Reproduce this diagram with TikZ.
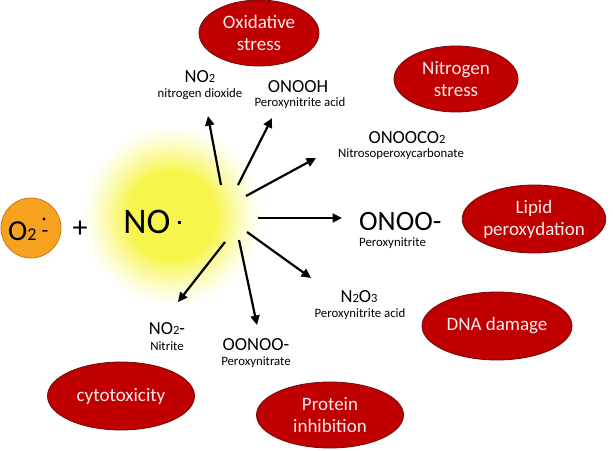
\documentclass[tikz,border=0pt]{standalone}
\usepackage{fontspec}
\setmainfont{Carlito}
\usetikzlibrary{arrows.meta,shapes.geometric}
\definecolor{effred}{RGB}{192,0,0}
\definecolor{effredline}{RGB}{110,10,10}
\definecolor{effText}{RGB}{255,235,235}
\definecolor{orangeO}{RGB}{246,162,30}
\definecolor{orangeLine}{RGB}{200,120,20}
\definecolor{glowY}{RGB}{247,245,75}
\newcommand\fsz[2]{\fontsize{#1}{#2}\selectfont}
\tikzset{
  effect/.style={ellipse, fill=effred, draw=effredline, line width=0.8pt, text=effText,
    align=center, inner sep=0pt, font=\fsz{19}{22}},
  formula/.style={anchor=base, inner sep=0pt, font=\fsz{18.5}{20}},
  cname/.style={anchor=base, inner sep=0pt, font=\fsz{12.8}{14}},
  rarrow/.style={line width=2.2pt, -{Triangle[length=9.5pt,width=9pt]}},
}
\newcommand\sub[1]{{\fsz{12.5}{12}#1}}
\begin{document}
\begin{tikzpicture}[x=1pt,y=-1pt]
\useasboundingbox (0,0) rectangle (613,450);
\fill[white] (0,0) rectangle (613,450);
% glow
\foreach \r in {92,90,...,2}{
  \pgfmathsetmacro\t{min(1,max(0,(\r-45)/47))}
  \pgfmathsetmacro\p{100*(1-\t)^1.3}
  \fill[glowY!\p!white] (172,216) circle (\r pt);
}
% O2 radical
\node[circle, fill=orangeO, draw=orangeLine, line width=0.8pt, minimum size=60pt, inner sep=0pt] (o2c) at (31,228) {};
\node[anchor=base west, inner sep=0pt, font=\fsz{29}{30}] (o2) at (8,240) {O\sub{\fsz{18}{18}2}};
\node[anchor=base, inner sep=0pt, font=\fsz{22}{24}] (o2m) at (45,237) {-};
\fill (44,219) circle (1.6pt);
\node[font=\fsz{30}{32}, inner sep=0pt] (plus) at (80,229) {+};
\node[anchor=base, inner sep=0pt, font=\fsz{36}{38}] (no) at (147,233) {NO};
\fill (177.5,220.5) rectangle (181,224);
% effects
\node[effect, minimum width=120pt, minimum height=66pt] (ox) at (259,33) {Oxidative\\stress};
\node[effect, minimum width=124pt, minimum height=66pt] (ni) at (456,79) {Nitrogen\\stress};
\node[effect, minimum width=140pt, minimum height=68pt] (li) at (534,219) {Lipid\\peroxydation};
\node[effect, minimum width=150pt, minimum height=68pt] (dna) at (497,326) {DNA damage};
\node[effect, minimum width=147pt, minimum height=68pt] (cy) at (121,396) {cytotoxicity};
\node[effect, minimum width=147pt, minimum height=66pt] (pr) at (330,415) {Protein\\inhibition};
% products
\node[formula] (no2) at (200,82) {NO\sub{2}};
\node[cname] (no2n) at (200,97) {nitrogen dioxide};
\node[formula] (onooh) at (298,92) {ONOOH};
\node[cname] (onoohn) at (300,106) {Peroxynitrite acid};
\node[formula] (onooco2) at (407,143) {ONOOCO\sub{2}};
\node[cname] (onooco2n) at (401,157) {Nitrosoperoxycarbonate};
\node[anchor=base west, inner sep=0pt, font=\fsz{28}{30}] (onoo) at (359,230) {ONOO-};
\node[cname, anchor=base west] (onoon) at (359,246) {Peroxynitrite};
\node[formula] (n2o3) at (359,302) {N\sub{2}O\sub{3}};
\node[cname] (n2o3n) at (360,317) {Peroxynitrite acid};
\node[formula] (no2m) at (167,334) {NO\sub{2}-};
\node[cname] (no2mn) at (167,350) {Nitrite};
\node[formula] (oonoo) at (256,350) {OONOO-};
\node[cname] (oonoon) at (256,365) {Peroxynitrate};
% arrows
\coordinate (s1) at (221,185); \coordinate (e1) at (208,116);
\coordinate (s2) at (238,185); \coordinate (e2) at (272,118);
\coordinate (s3) at (246,196); \coordinate (e3) at (316,158);
\coordinate (s4) at (258,218); \coordinate (e4) at (342,218);
\coordinate (s5) at (247,232); \coordinate (e5) at (311,278);
\coordinate (s6) at (239,240); \coordinate (e6) at (257,325);
\coordinate (s7) at (225,242); \coordinate (e7) at (178,302);
\draw[rarrow] (s1) -- (e1);
\draw[rarrow] (s2) -- (e2);
\draw[rarrow] (s3) -- (e3);
\draw[rarrow] (s4) -- (e4);
\draw[rarrow] (s5) -- (e5);
\draw[rarrow] (s6) -- (e6);
\draw[rarrow] (s7) -- (e7);
\end{tikzpicture}
\end{document}
